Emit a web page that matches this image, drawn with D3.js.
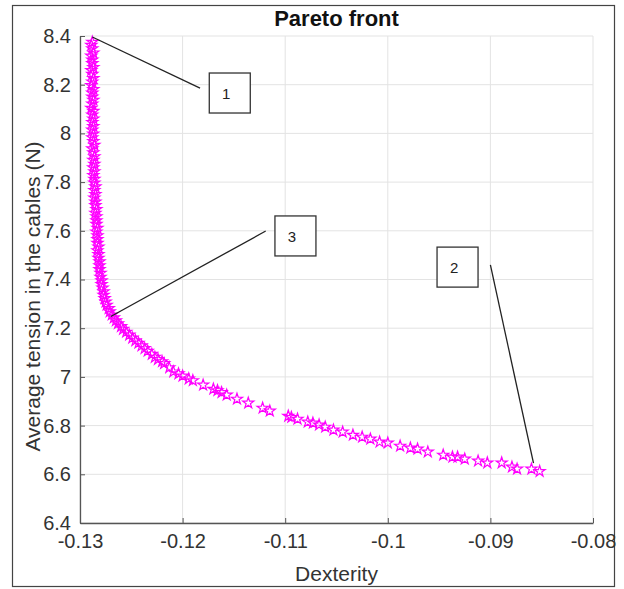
<!DOCTYPE html>
<html>
<head>
<meta charset="utf-8">
<script src="https://cdn.jsdelivr.net/npm/d3@7"></script>
<style>
  html, body { margin: 0; padding: 0; background: #fff; }
  svg { display: block; }
  text { font-family: "Liberation Sans", Arial, sans-serif; }
</style>
</head>
<body>
<svg id="chart" width="624" height="589"></svg>
<script>
// ---------- data ----------
const dexterity = [
  -0.1288, -0.1289, -0.1288, -0.1287, -0.1289, -0.1288, -0.1288, -0.1287, -0.1289, -0.1288,
  -0.1287, -0.1288, -0.1289, -0.1287, -0.1288, -0.1288, -0.1287, -0.1288, -0.1289, -0.1287,
  -0.1288, -0.1287, -0.1288, -0.1287, -0.1288, -0.1287, -0.1288, -0.1287, -0.1286, -0.1288,
  -0.1287, -0.1286, -0.1287, -0.1286, -0.1287, -0.1286, -0.1287, -0.1286, -0.1286, -0.1285,
  -0.1286, -0.1285, -0.1286, -0.1285, -0.1285, -0.1284, -0.1285, -0.1284, -0.1284, -0.1284,
  -0.1283, -0.1284, -0.1283, -0.1283, -0.1283, -0.1282, -0.1283, -0.1282, -0.1282, -0.1281,
  -0.1281, -0.1281, -0.1280, -0.1280, -0.1279, -0.1279, -0.1278, -0.1277, -0.1277, -0.1276,
  -0.1275, -0.1274, -0.1272, -0.1271, -0.1269, -0.1267, -0.1265, -0.1263, -0.1260, -0.1258,
  -0.1255, -0.1252, -0.1249, -0.1246, -0.1243, -0.1240, -0.1237, -0.1234, -0.1230, -0.1227,
  -0.1224, -0.1220, -0.1218, -0.1213, -0.1209, -0.1204, -0.1200, -0.1194, -0.1190, -0.1180,
  -0.1170, -0.1166, -0.1162, -0.1157, -0.1147, -0.1136, -0.1122, -0.1115, -0.1097, -0.1094,
  -0.1088, -0.1078, -0.1073, -0.1067, -0.1061, -0.1053, -0.1044, -0.1034, -0.1025, -0.1017,
  -0.1008, -0.1000, -0.0988, -0.0978, -0.0971, -0.0961, -0.0946, -0.0937, -0.0932, -0.0925,
  -0.0912, -0.0903, -0.0889, -0.0879, -0.0874, -0.0860, -0.0852
];
const tension = [
  8.375, 8.362, 8.348, 8.331, 8.318, 8.302, 8.287, 8.271, 8.259, 8.243,
  8.226, 8.212, 8.197, 8.181, 8.166, 8.150, 8.137, 8.121, 8.104, 8.091,
  8.076, 8.060, 8.045, 8.029, 8.014, 7.998, 7.983, 7.967, 7.952, 7.937,
  7.921, 7.905, 7.890, 7.874, 7.859, 7.843, 7.828, 7.812, 7.797, 7.781,
  7.766, 7.750, 7.735, 7.719, 7.704, 7.688, 7.673, 7.658, 7.642, 7.627,
  7.611, 7.596, 7.580, 7.565, 7.549, 7.534, 7.519, 7.503, 7.488, 7.473,
  7.457, 7.441, 7.426, 7.410, 7.395, 7.380, 7.365, 7.350, 7.336, 7.322,
  7.308, 7.295, 7.281, 7.268, 7.255, 7.243, 7.231, 7.219, 7.207, 7.196,
  7.184, 7.172, 7.160, 7.149, 7.139, 7.128, 7.117, 7.106, 7.093, 7.081,
  7.072, 7.063, 7.055, 7.038, 7.021, 7.013, 7.004, 6.992, 6.985, 6.967,
  6.950, 6.944, 6.936, 6.926, 6.909, 6.893, 6.872, 6.860, 6.839, 6.834,
  6.827, 6.815, 6.811, 6.803, 6.794, 6.782, 6.774, 6.761, 6.753, 6.745,
  6.733, 6.729, 6.716, 6.708, 6.704, 6.692, 6.679, 6.671, 6.671, 6.663,
  6.655, 6.647, 6.647, 6.630, 6.622, 6.622, 6.612
];
const xTicks = [-0.13, -0.12, -0.11, -0.1, -0.09, -0.08];
const xTickLabels = ["-0.13", "-0.12", "-0.11", "-0.1", "-0.09", "-0.08"];
const yTicks = [6.4, 6.6, 6.8, 7, 7.2, 7.4, 7.6, 7.8, 8, 8.2, 8.4];
const yTickLabels = ["6.4", "6.6", "6.8", "7", "7.2", "7.4", "7.6", "7.8", "8", "8.2", "8.4"];
// annotation boxes: label, box top-left corner (data units), line from (x1,y1) to (x2,y2)
const annLabels = ["1", "3", "2"];
const annBoxX = [-0.1174, -0.1110, -0.0952];
const annBoxY = [8.248, 7.661, 7.533];
const annLine = [
  [-0.1288, 8.396, -0.1183, 8.186],
  [-0.1119, 7.599, -0.1270, 7.248],
  [-0.0900, 7.460, -0.0858, 6.646]
];

// ---------- layout ----------
const svg = d3.select("#chart");
const W = 624, H = 589;
const L = 80, R = 593, T = 36, B = 523;

svg.append("rect").attr("x", 0).attr("y", 0).attr("width", W).attr("height", H).attr("fill", "#fff");
svg.append("rect").attr("x", 12.5).attr("y", 5.5).attr("width", 602).attr("height", 581)
  .attr("fill", "none").attr("stroke", "#444").attr("stroke-width", 1.2);

const x = d3.scaleLinear().domain([-0.13, -0.08]).range([L, R]);
const y = d3.scaleLinear().domain([6.4, 8.4]).range([B, T]);

// grid
const grid = svg.append("g");
grid.selectAll(".gx").data(xTicks).enter().append("line")
  .attr("x1", d => x(d)).attr("x2", d => x(d)).attr("y1", T).attr("y2", B)
  .attr("stroke", "#e3e3e3").attr("stroke-width", 1);
grid.selectAll(".gy").data(yTicks).enter().append("line")
  .attr("x1", L).attr("x2", R).attr("y1", d => y(d)).attr("y2", d => y(d))
  .attr("stroke", "#e3e3e3").attr("stroke-width", 1);

// axes
const xAxis = d3.axisBottom(x).tickValues(xTicks)
  .tickFormat((d, i) => xTickLabels[i]).tickSizeInner(-5).tickSizeOuter(0).tickPadding(11);
const yAxis = d3.axisLeft(y).tickValues(yTicks)
  .tickFormat((d, i) => yTickLabels[i]).tickSizeInner(-5).tickSizeOuter(0).tickPadding(9);

const gx = svg.append("g").attr("transform", `translate(0,${B})`).call(xAxis);
const gy = svg.append("g").attr("transform", `translate(${L},0)`).call(yAxis);
[gx, gy].forEach(g => {
  g.select(".domain").attr("stroke", "#555").attr("stroke-width", 1.3);
  g.selectAll(".tick line").attr("stroke", "#555").attr("stroke-width", 1);
  g.selectAll(".tick text").attr("fill", "#333")
    .style("font-family", "'Liberation Sans', Arial, sans-serif");
});
gx.selectAll(".tick text").style("font-size", "20px");
gy.selectAll(".tick text").style("font-size", "20px");

// points
const star = d3.symbol().type(d3.symbolStar).size(38);
svg.append("g").selectAll("path").data(dexterity).enter().append("path")
  .attr("d", star)
  .attr("transform", (d, i) => `translate(${x(d)},${y(tension[i])})`)
  .attr("fill", "none").attr("stroke", "#ff00ff").attr("stroke-width", 1.2);

// annotations
const ann = svg.append("g");
annLine.forEach(l => {
  ann.append("line")
    .attr("x1", x(l[0])).attr("y1", y(l[1])).attr("x2", x(l[2])).attr("y2", y(l[3]))
    .attr("stroke", "#222").attr("stroke-width", 1.3);
});
annLabels.forEach((lab, i) => {
  const bx = x(annBoxX[i]), by = y(annBoxY[i]);
  ann.append("rect").attr("x", bx).attr("y", by).attr("width", 41).attr("height", 40)
    .attr("fill", "#fff").attr("stroke", "#333").attr("stroke-width", 1.3);
  ann.append("text").attr("x", bx + 17).attr("y", by + 26)
    .attr("text-anchor", "middle").style("font-size", "15px").attr("fill", "#222").text(lab);
});

// titles
svg.append("text").attr("x", (L + R) / 2).attr("y", 26).attr("text-anchor", "middle")
  .style("font-size", "22px").style("font-weight", "bold").attr("fill", "#111").text("Pareto front");
svg.append("text").attr("x", (L + R) / 2).attr("y", 581).attr("text-anchor", "middle")
  .style("font-size", "21px").attr("fill", "#333").text("Dexterity");
svg.append("text").attr("transform", `translate(40,${(T + B) / 2 + 17}) rotate(-90)`)
  .attr("text-anchor", "middle").style("font-size", "21px").attr("fill", "#333")
  .text("Average tension in the cables (N)");
</script>
</body>
</html>
